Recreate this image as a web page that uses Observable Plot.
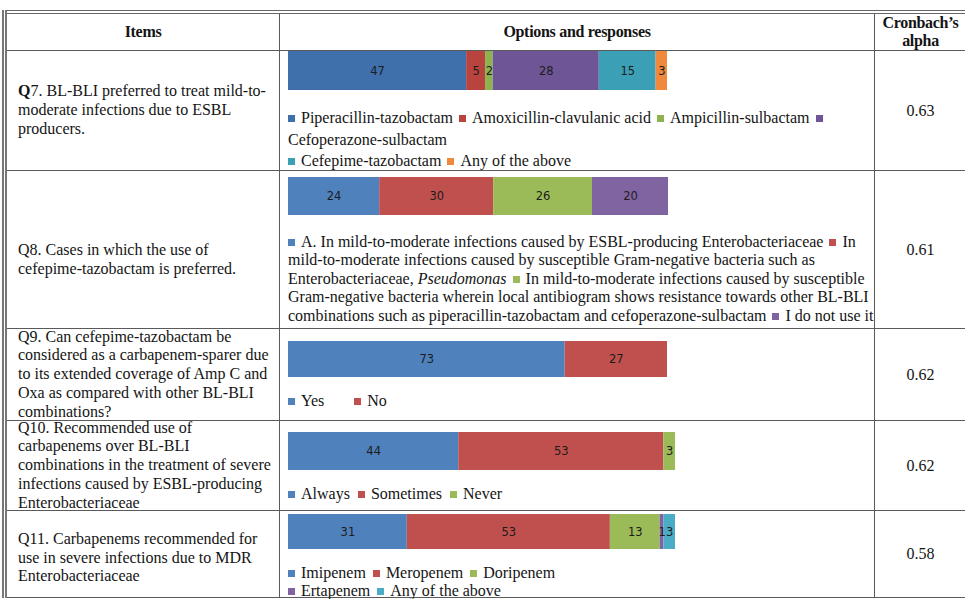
<!DOCTYPE html>
<html>
<head>
<meta charset="utf-8">
<script src="https://cdn.jsdelivr.net/npm/d3@7"></script>
<script src="https://cdn.jsdelivr.net/npm/@observablehq/plot@0.6"></script>
<style>
  body { margin: 0; background: #fff; width: 965px; height: 599px; overflow: hidden; position: relative;
         font-family: "Liberation Serif", "Times New Roman", serif; color: #141414; }
  table { position: absolute; left: 2px; top: 10px; width: 962px; border-collapse: collapse; table-layout: fixed;
          border-top: 4px double #666; border-left: 5px double #777; }
  td, th { border: 1px solid #5a5a5a; padding: 0; }
  th { font-weight: bold; font-size: 16px; line-height: 18px; height: 36px; letter-spacing: -0.3px; }
  td.item { font-size: 16px; line-height: 18.8px; padding-left: 11px; padding-right: 6px; vertical-align: middle; }
  td.item .txt { margin: -3px 0; }
  td.opt { vertical-align: top; }
  td.alpha { font-size: 16px; text-align: center; vertical-align: middle; }
  .cell { position: relative; }
  .chart { position: absolute; left: 8px; }
  .legend { position: absolute; left: 8px; width: 590px; font-size: 16px; }
  .sw { display: inline-block; width: 7px; height: 7px; margin-right: 6px; vertical-align: 1px; }
</style>
</head>
<body>
<table id="tbl">
  <colgroup><col style="width:275px"><col style="width:595px"><col style="width:92px"></colgroup>
  <thead><tr><th>Items</th><th>Options and responses</th><th>Cronbach’s<br>alpha</th></tr></thead>
  <tbody id="body"></tbody>
</table>
<script>
// Survey items
const codes = ["Q7", "Q8", "Q9", "Q10", "Q11"];
const questions = [
  ". BL-BLI preferred to treat mild-to-moderate infections due to ESBL producers.",
  ". Cases in which the use of cefepime-tazobactam is preferred.",
  ". Can cefepime-tazobactam be considered as a carbapenem-sparer due to its extended coverage of Amp C and Oxa as compared with other BL-BLI combinations?",
  ". Recommended use of carbapenems over BL-BLI combinations in the treatment of severe infections caused by ESBL-producing Enterobacteriaceae",
  ". Carbapenems recommended for use in severe infections due to MDR Enterobacteriaceae"
];
const alphas = [0.63, 0.61, 0.62, 0.62, 0.58];

// Response options and percentages per item
const q7Options = ["Piperacillin-tazobactam", "Amoxicillin-clavulanic acid", "Ampicillin-sulbactam", "Cefoperazone-sulbactam", "Cefepime-tazobactam", "Any of the above"];
const q7Values = [47, 5, 2, 28, 15, 3];
const q8Options = [
  "A. In mild-to-moderate infections caused by ESBL-producing Enterobacteriaceae",
  "In mild-to-moderate infections caused by susceptible Gram-negative bacteria such as Enterobacteriaceae, *Pseudomonas*",
  "In mild-to-moderate infections caused by susceptible Gram-negative bacteria wherein local antibiogram shows resistance towards other BL-BLI combinations such as piperacillin-tazobactam and cefoperazone-sulbactam",
  "I do not use it"
];
const q8Values = [24, 30, 26, 20];
const q9Options = ["Yes", "No"];
const q9Values = [73, 27];
const q10Options = ["Always", "Sometimes", "Never"];
const q10Values = [44, 53, 3];
const q11Options = ["Imipenem", "Meropenem", "Doripenem", "Ertapenem", "Any of the above"];
const q11Values = [31, 53, 13, 1, 3];

// Colours
const paletteDark = ["#3f70ab", "#b9443f", "#8fb250", "#6e5596", "#3ba0b6", "#ef8a3c"];
const palette = ["#4f81bd", "#c0504d", "#9bbb59", "#8064a2", "#4bacc6", "#f79646"];

const charts = [
  {options: q7Options, values: q7Values, colors: paletteDark},
  {options: q8Options, values: q8Values, colors: palette},
  {options: q9Options, values: q9Values, colors: palette},
  {options: q10Options, values: q10Values, colors: palette},
  {options: q11Options, values: q11Values, colors: palette}
];

// Row layout (pixels)
const rowHeight = [120, 158, 92, 90, 87];
const barTop = [0, 6, 12, 11, 3];
const barHeight = [39, 38, 36, 38, 35];
const barWidth = [379, 380, 379, 387, 387];
const barMax = [100, 100, 100, 100, 101];
const legendTop = [56, 62, 63, 64, 53];
const legendLine = [21.5, 18.4, 18.4, 18.4, 18.2];
const legendGap = [6, 6, 30, 8, 7];
const legendBreakBefore = [4, -1, -1, -1, 3];
const itemPad = [0, 20, 0, 0, 8];
const boldLetter = [true, false, false, false, false];

function stackedBar(c, i) {
  const data = c.options.map((o, k) => ({option: o, value: c.values[k]}));
  return Plot.plot({
    width: barWidth[i],
    height: barHeight[i],
    margin: 0,
    x: {domain: [0, barMax[i]], range: [0, barWidth[i]], axis: null},
    color: {domain: c.options, range: c.colors},
    style: {background: "transparent", overflow: "visible"},
    marks: [
      Plot.barX(data, Plot.stackX({x: "value", fill: "option"})),
      Plot.text(data, Plot.stackX({x: "value", text: d => String(d.value), fill: "#1c1c1c",
        fontSize: 11.5, fontFamily: "DejaVu Sans"}))
    ]
  });
}

function legend(c, i) {
  const div = document.createElement("div");
  div.className = "legend";
  div.style.top = legendTop[i] + "px";
  div.style.lineHeight = legendLine[i] + "px";
  c.options.forEach((o, k) => {
    if (k === legendBreakBefore[i]) div.appendChild(document.createElement("br"));
    else if (k > 0) div.appendChild(document.createTextNode(" "));
    const sw = document.createElement("span");
    sw.className = "sw";
    sw.style.background = c.colors[k];
    if (k > 0 && k !== legendBreakBefore[i]) sw.style.marginLeft = (legendGap[i] - 4) + "px";
    div.appendChild(sw);
    o.split(/(\*[^*]+\*)/).forEach(part => {
      if (part.startsWith("*")) {
        const it = document.createElement("i");
        it.textContent = part.slice(1, -1);
        div.appendChild(it);
      } else if (part) div.appendChild(document.createTextNode(part));
    });
  });
  return div;
}

const tbody = document.getElementById("body");
codes.forEach((code, i) => {
  const tr = document.createElement("tr");
  tr.style.height = rowHeight[i] + "px";

  const tdItem = document.createElement("td");
  tdItem.className = "item";
  tdItem.style.paddingTop = itemPad[i] + "px";
  const txt = document.createElement("div");
  txt.className = "txt";
  if (boldLetter[i]) {
    const b = document.createElement("b");
    b.textContent = code[0];
    txt.appendChild(b);
    txt.appendChild(document.createTextNode(code.slice(1) + questions[i]));
  } else txt.textContent = code + questions[i];
  tdItem.appendChild(txt);

  const tdOpt = document.createElement("td");
  tdOpt.className = "opt";
  const cell = document.createElement("div");
  cell.className = "cell";
  cell.style.height = (rowHeight[i] - 1) + "px";
  const ch = document.createElement("div");
  ch.className = "chart";
  ch.style.top = barTop[i] + "px";
  ch.appendChild(stackedBar(charts[i], i));
  cell.appendChild(ch);
  cell.appendChild(legend(charts[i], i));
  tdOpt.appendChild(cell);

  const tdA = document.createElement("td");
  tdA.className = "alpha";
  tdA.textContent = alphas[i].toFixed(2);

  tr.append(tdItem, tdOpt, tdA);
  tbody.appendChild(tr);
});
</script>
</body>
</html>
